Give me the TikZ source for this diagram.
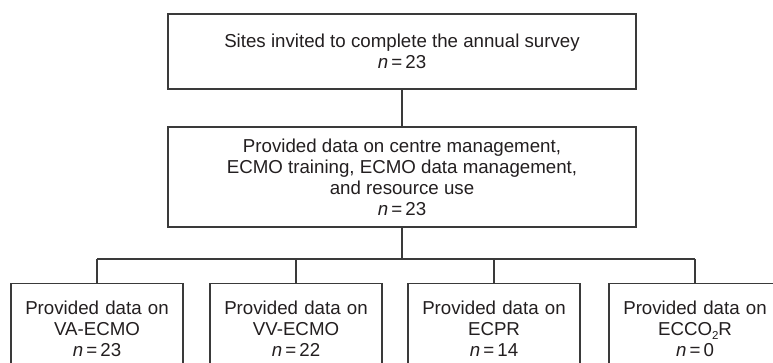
\documentclass[tikz,border=0pt]{standalone}
\usepackage{fontspec}
\setmainfont{Liberation Sans}
\definecolor{lineclr}{HTML}{3A3A3A}
\definecolor{txtclr}{HTML}{231F20}
\begin{document}
\begin{tikzpicture}[x=1pt,y=-1pt,
  box/.style={draw=lineclr, line width=1.3pt, rectangle, align=center,
    text=txtclr, font=\fontsize{18.7}{21}\selectfont, inner sep=0pt},
  wide/.style={box, minimum width=468pt},
  small/.style={box, minimum width=172pt, text width=172pt, anchor=north,
    inner ysep=11.5pt, minimum height=90pt},
  conn/.style={draw=lineclr, line width=1.3pt}]
\useasboundingbox (0,0) rectangle (773,363);
\clip (0,0) rectangle (773,363);
\fill[white] (0,0) rectangle (773,363);
\newcommand{\nn}[1]{\textit{n}\,=\,#1}
\newcommand{\lowtwo}{\raisebox{-0.45ex}{\fontsize{11.5}{11.5}\selectfont 2}}
\node[wide, minimum height=75pt] (top) at (402,51.5)
  {Sites invited to complete the annual survey\\ \nn{23}};
\node[wide, minimum height=100pt] (mid) at (402,177)
  {Provided data on centre management,\\ECMO training, ECMO data management,\\and resource use\\ \nn{23}};
\node[small] (b1) at (97,283) {Provided data on\\VA-ECMO\\ \nn{23}};
\node[small] (b2) at (296,283) {Provided data on\\VV-ECMO\\ \nn{22}};
\node[small] (b3) at (494,283) {Provided data on\\ECPR\\ \nn{14}};
\node[small] (b4) at (695,283) {Provided data on\\ECCO\lowtwo R\\ \nn{0}};
\coordinate (hub) at (402,259);
\coordinate (h1) at (97,259);
\coordinate (h4) at (695,259);
\draw[conn] (top.south) -- (mid.north);
\draw[conn] (mid.south) -- (hub);
\draw[conn] (h1) -- (h4);
\draw[conn] (h1) -- (b1.north);
\draw[conn] (b2.north |- hub) -- (b2.north);
\draw[conn] (b3.north |- hub) -- (b3.north);
\draw[conn] (h4) -- (b4.north);
\end{tikzpicture}
\end{document}
